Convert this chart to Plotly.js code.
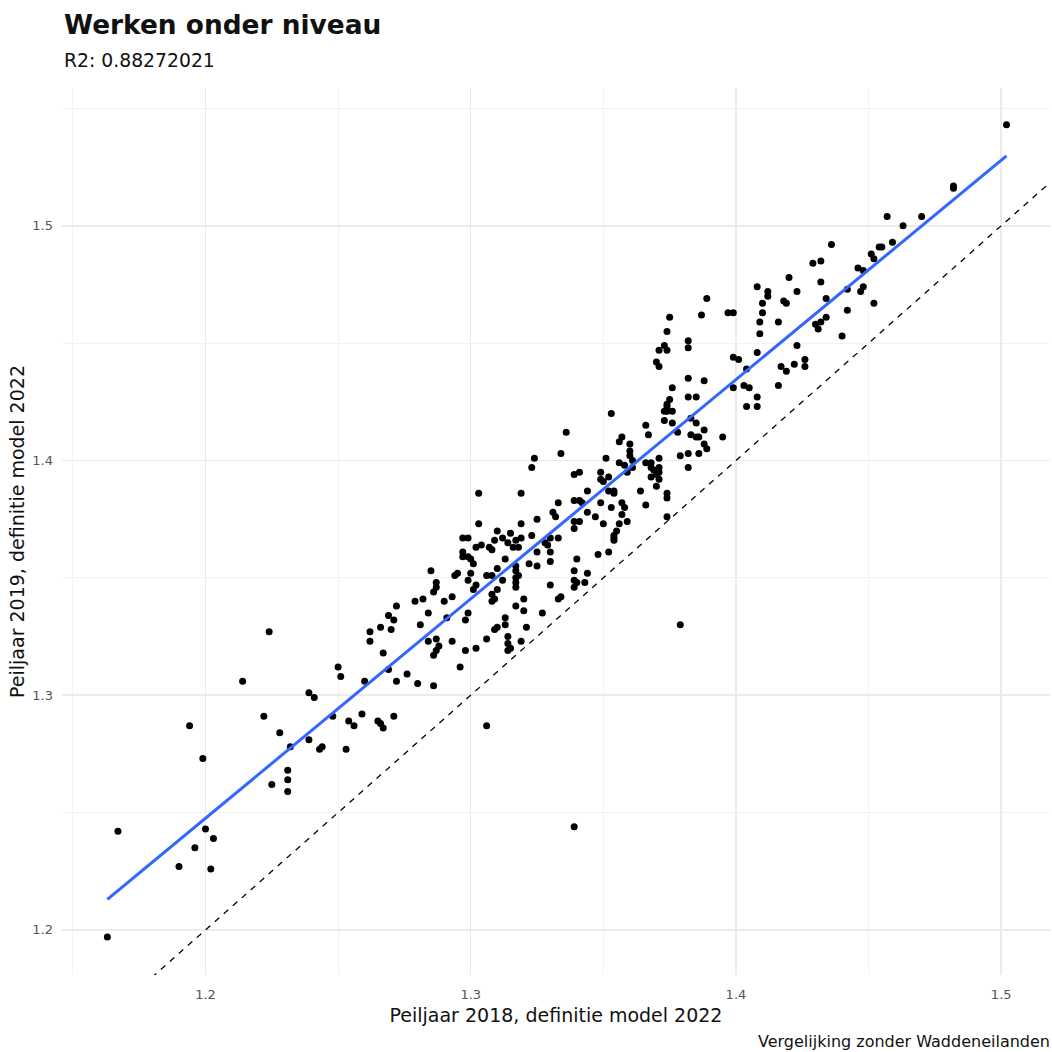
<!DOCTYPE html>
<html>
<head>
<meta charset="utf-8">
<script src="https://cdn.plot.ly/plotly-3.0.1.min.js"></script>
<style>html,body{margin:0;padding:0;background:#fff;}#chart{width:1052px;height:1052px;}</style>
</head>
<body>
<div id="chart"></div>
<script>
// Peiljaar 2018 (x) vs Peiljaar 2019 (y), definitie model 2022
const peiljaar2018 = [
1.224,1.214,1.194,1.222,1.228,1.232,1.199,1.231,1.231,1.225,
1.231,1.167,1.200,1.203,1.196,1.190,1.202,1.163,
1.297,1.285,1.295,1.294,1.287,1.287,1.286,1.282,1.279,1.293,
1.290,1.272,1.284,1.269,1.271,1.291,1.298,1.281,1.266,1.270,
1.262,1.262,1.284,1.287,1.288,1.293,1.287,1.286,1.267,1.250,
1.251,1.269,1.276,1.272,1.280,1.286,1.296,1.260,1.239,1.241,
1.248,1.259,1.254,1.256,1.265,1.266,1.267,1.271,1.298,1.239,
1.243,1.244,1.253,1.306,
1.336,1.334,1.324,1.323,1.303,1.319,1.333,1.331,1.332,1.325,
1.303,1.319,1.310,1.315,1.323,1.333,1.330,1.299,1.297,1.309,
1.312,1.314,1.317,1.319,1.328,1.302,1.304,1.307,1.308,1.316,
1.318,1.329,1.297,1.325,1.330,1.313,1.299,
1.300,1.301,1.322,1.325,1.330,1.317,1.300,1.306,1.308,1.310,
1.317,1.318,1.317,1.299,1.312,1.317,1.302,1.301,1.317,1.310,
1.308,1.309,1.308,1.330,1.333,1.334,1.320,1.317,1.320,1.327,
1.299,1.313,1.313,1.310,1.309,1.321,1.306,1.314,1.314,1.315,
1.314,1.319,1.302,
1.353,1.373,1.374,1.373,1.366,1.367,1.357,1.356,1.360,1.360,
1.360,1.351,1.356,1.358,1.361,1.361,1.359,1.366,1.368,1.371,
1.368,1.369,1.370,1.371,1.371,1.368,1.371,1.339,1.341,1.349,
1.349,1.350,1.352,1.370,1.344,1.352,1.354,1.354,1.364,1.374,
1.374,1.339,1.341,1.342,1.349,1.357,1.358,1.353,
1.344,1.357,1.366,1.339,1.341,1.339,1.347,1.350,1.356,1.359,
1.355,1.354,1.354,1.354,1.374,1.352,1.348,1.340,1.339,1.344,
1.339,1.340,1.339,1.343,
1.408,1.410,1.410,1.409,1.409,1.389,1.375,1.387,1.397,1.399,
1.374,1.382,1.382,1.373,1.371,1.374,1.370,1.371,1.399,1.401,
1.408,1.404,1.382,1.388,1.376,1.399,1.403,1.405,1.385,1.382,
1.375,1.408,
1.374,1.374,1.376,1.376,1.383,1.385,1.388,1.378,1.383,1.385,
1.386,1.395,1.388,1.389,1.404,1.408,1.379,1.382,1.386,1.382,
1.436,1.429,1.432,1.459,1.455,1.454,1.451,1.452,1.420,1.432,
1.446,1.448,1.423,1.412,1.412,1.418,1.419,1.434,1.442,1.447,
1.448,1.452,1.442,1.416,1.434,1.432,1.430,1.431,1.440,1.423,
1.417,1.419,1.422,1.426,1.426,1.416,
1.502,1.482,1.482,1.470,1.463,1.457,
1.379,1.339
];
const peiljaar2019 = [
1.327,1.306,1.287,1.291,1.284,1.278,1.273,1.268,1.264,1.262,
1.259,1.242,1.243,1.239,1.235,1.227,1.226,1.197,
1.359,1.353,1.352,1.351,1.348,1.346,1.344,1.341,1.340,1.342,
1.340,1.338,1.335,1.334,1.332,1.333,1.332,1.330,1.329,1.328,
1.327,1.323,1.323,1.324,1.321,1.323,1.319,1.317,1.318,1.312,
1.308,1.311,1.309,1.306,1.305,1.304,1.312,1.306,1.301,1.299,
1.291,1.292,1.289,1.287,1.289,1.288,1.286,1.291,1.319,1.281,
1.277,1.278,1.277,1.287,
1.412,1.403,1.401,1.397,1.386,1.386,1.382,1.378,1.376,1.375,
1.373,1.373,1.370,1.369,1.368,1.367,1.367,1.367,1.367,1.366,
1.367,1.365,1.366,1.367,1.365,1.363,1.364,1.363,1.362,1.363,
1.363,1.364,1.361,1.361,1.361,1.358,1.359,
1.358,1.356,1.356,1.355,1.357,1.355,1.352,1.351,1.351,1.354,
1.353,1.351,1.350,1.349,1.349,1.348,1.347,1.345,1.346,1.345,
1.343,1.341,1.340,1.347,1.341,1.342,1.341,1.338,1.336,1.335,
1.335,1.333,1.330,1.329,1.328,1.329,1.324,1.325,1.322,1.320,
1.319,1.323,1.320,
1.420,1.421,1.423,1.417,1.415,1.411,1.410,1.408,1.407,1.404,
1.402,1.401,1.399,1.398,1.400,1.397,1.395,1.399,1.399,1.401,
1.397,1.396,1.394,1.397,1.395,1.393,1.392,1.394,1.395,1.395,
1.392,1.391,1.393,1.389,1.387,1.387,1.386,1.387,1.387,1.386,
1.384,1.383,1.383,1.382,1.382,1.382,1.380,1.380,
1.378,1.377,1.381,1.374,1.374,1.371,1.376,1.373,1.373,1.374,
1.370,1.368,1.367,1.366,1.376,1.361,1.360,1.358,1.353,1.352,
1.349,1.348,1.346,1.348,
1.474,1.467,1.463,1.459,1.454,1.469,1.461,1.462,1.463,1.463,
1.455,1.451,1.448,1.449,1.447,1.447,1.442,1.440,1.444,1.443,
1.446,1.439,1.435,1.434,1.431,1.431,1.432,1.431,1.427,1.427,
1.426,1.427,
1.424,1.421,1.421,1.416,1.418,1.416,1.413,1.412,1.411,1.410,
1.410,1.410,1.407,1.405,1.423,1.423,1.402,1.403,1.403,1.397,
1.492,1.484,1.485,1.493,1.491,1.491,1.488,1.486,1.478,1.476,
1.482,1.481,1.472,1.472,1.470,1.468,1.467,1.469,1.473,1.472,
1.474,1.467,1.464,1.459,1.461,1.459,1.458,1.456,1.453,1.449,
1.440,1.438,1.441,1.443,1.440,1.432,
1.543,1.517,1.516,1.504,1.500,1.504,
1.330,1.244
];
const tickValues = [1.2, 1.3, 1.4, 1.5];
const tickLabels = ['1.2', '1.3', '1.4', '1.5'];
const minorX = [1.15, 1.25, 1.35, 1.45];
const minorY = [1.25, 1.35, 1.45, 1.55];
const titleText = 'Werken onder niveau';
const subtitleText = 'R2: 0.88272021';
const xTitle = 'Peiljaar 2018, definitie model 2022';
const yTitle = 'Peiljaar 2019, definitie model 2022';
const captionText = 'Vergelijking zonder Waddeneilanden';

// linear fit (lm) computed from the data
const n = peiljaar2018.length;
let sx=0, sy=0, sxx=0, sxy=0;
for (let i=0;i<n;i++){ sx+=peiljaar2018[i]; sy+=peiljaar2019[i]; sxx+=peiljaar2018[i]*peiljaar2018[i]; sxy+=peiljaar2018[i]*peiljaar2019[i]; }
const slope = (n*sxy - sx*sy)/(n*sxx - sx*sx);
const intercept = (sy - slope*sx)/n;
const xmin = Math.min(...peiljaar2018), xmax = Math.max(...peiljaar2018);
const xr = [1.1459, 1.5184], yr = [1.1808, 1.5587];

const FONT = '"DejaVu Sans", Verdana, sans-serif';

const traces = [
  { x: [xr[0], xr[1]], y: [xr[0], xr[1]], mode: 'lines', type: 'scatter',
    line: {color: '#000', width: 1.3, dash: '6px,6px'}, hoverinfo: 'skip', showlegend: false },
  { x: peiljaar2018, y: peiljaar2019, mode: 'markers', type: 'scatter',
    marker: {color: '#000', size: 7}, showlegend: false, cliponaxis: false },
  { x: [xmin, xmax], y: [intercept + slope*xmin, intercept + slope*xmax], mode: 'lines', type: 'scatter',
    line: {color: '#3366FF', width: 3}, showlegend: false }
];

const layout = {
  width: 1052, height: 1052,
  margin: {l: 62, r: 2, t: 88, b: 77},
  paper_bgcolor: '#fff', plot_bgcolor: '#fff',
  font: {family: FONT, color: '#222'},
  title: {text: '<b>' + titleText + '</b>', x: 64/1052, xanchor: 'left', xref: 'container',
          y: 1 - 25/1052, yanchor: 'middle', yref: 'container',
          font: {family: FONT, size: 26.4, color: '#111'}},
  xaxis: {range: xr, tickvals: tickValues, ticktext: tickLabels, showgrid: true,
          gridcolor: '#EBEBEB', gridwidth: 1.5, zeroline: false, showline: false, ticks: '',
          ticklabelstandoff: 10,
          minor: {tickvals: minorX, showgrid: true, gridcolor: '#F2F2F2', gridwidth: 1},
          tickfont: {family: FONT, size: 13, color: '#555'},
          title: {text: xTitle, font: {family: FONT, size: 19, color: '#111'}, standoff: 7}},
  yaxis: {range: yr, tickvals: tickValues, ticktext: tickLabels, showgrid: true,
          gridcolor: '#EBEBEB', gridwidth: 1.5, zeroline: false, showline: false, ticks: '',
          ticklabelstandoff: 8,
          minor: {tickvals: minorY, showgrid: true, gridcolor: '#F2F2F2', gridwidth: 1},
          tickfont: {family: FONT, size: 13, color: '#555'},
          title: {text: yTitle, font: {family: FONT, size: 19, color: '#111'}, standoff: 2}},
  annotations: [
    {text: subtitleText, xref: 'paper', yref: 'paper', x: 0, y: (975-60)/887,
     xanchor: 'left', yanchor: 'middle', showarrow: false,
     font: {family: FONT, size: 18.8, color: '#111'}},
    {text: captionText, xref: 'paper', yref: 'paper', x: 1, y: (975-1041)/887, xshift: 2,
     xanchor: 'right', yanchor: 'middle', showarrow: false,
     font: {family: FONT, size: 16, color: '#111'}}
  ]
};

Plotly.newPlot('chart', traces, layout, {displayModeBar: false, staticPlot: true});
</script>
</body>
</html>
